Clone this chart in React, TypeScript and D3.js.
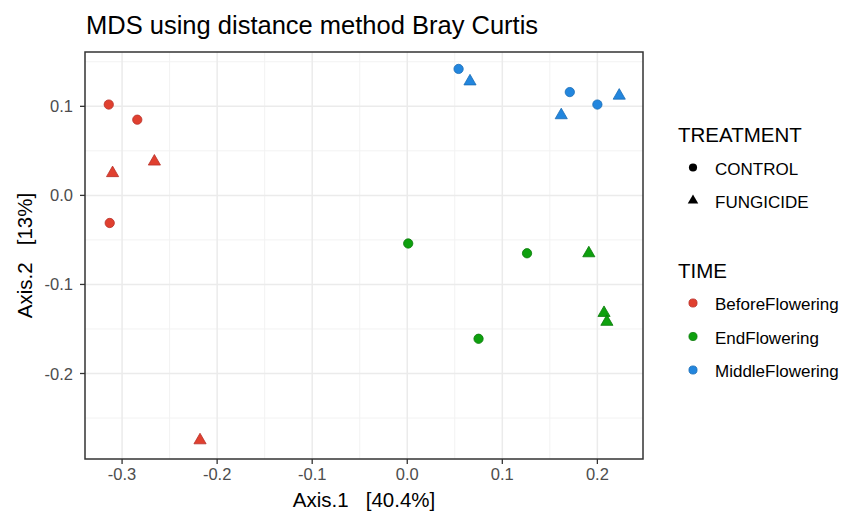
import React from 'react';
import * as d3 from 'd3';

// MDS ordination points (Bray Curtis)
const sampleTime = [
  'BeforeFlowering', 'BeforeFlowering', 'BeforeFlowering', 'BeforeFlowering', 'BeforeFlowering', 'BeforeFlowering',
  'MiddleFlowering', 'MiddleFlowering', 'MiddleFlowering', 'MiddleFlowering', 'MiddleFlowering', 'MiddleFlowering',
  'EndFlowering', 'EndFlowering', 'EndFlowering', 'EndFlowering', 'EndFlowering', 'EndFlowering',
];
const sampleTreatment = [
  'CONTROL', 'CONTROL', 'CONTROL', 'FUNGICIDE', 'FUNGICIDE', 'FUNGICIDE',
  'CONTROL', 'CONTROL', 'CONTROL', 'FUNGICIDE', 'FUNGICIDE', 'FUNGICIDE',
  'CONTROL', 'CONTROL', 'CONTROL', 'FUNGICIDE', 'FUNGICIDE', 'FUNGICIDE',
];
const axis1 = [
  -0.314, -0.284, -0.313, -0.266, -0.310, -0.218,
  0.054, 0.171, 0.200, 0.066, 0.223, 0.162,
  0.001, 0.126, 0.075, 0.191, 0.207, 0.210,
];
const axis2 = [
  0.102, 0.085, -0.031, 0.038, 0.025, -0.275,
  0.142, 0.116, 0.102, 0.128, 0.112, 0.090,
  -0.054, -0.065, -0.161, -0.065, -0.132, -0.142,
];

const timeLevels = ['BeforeFlowering', 'EndFlowering', 'MiddleFlowering'];
const timeColors = ['#e0402f', '#0ea00e', '#2286de'];
const timeStrokes = ['#b8302a', '#0a7a0a', '#1a6cb5'];
const treatmentLevels = ['CONTROL', 'FUNGICIDE'];
const xTicks = [-0.3, -0.2, -0.1, 0.0, 0.1, 0.2];
const yTicks = [0.1, 0.0, -0.1, -0.2];
const xMinor = [-0.25, -0.15, -0.05, 0.05, 0.15];
const yMinor = [0.15, 0.05, -0.05, -0.15, -0.25];

const W = 845;
const H = 516;
const panel = { left: 85, right: 643, top: 52, bottom: 459 };
const FONT = '"Liberation Sans", Arial, sans-serif';

export default function App() {
  const x = d3.scaleLinear().domain([-0.339, 0.248]).range([panel.left, panel.right]);
  const y = d3.scaleLinear().domain([-0.296, 0.161]).range([panel.bottom, panel.top]);
  const color = d3.scaleOrdinal<string, string>().domain(timeLevels).range(timeColors);
  const stroke = d3.scaleOrdinal<string, string>().domain(timeLevels).range(timeStrokes);
  const shape = d3
    .scaleOrdinal<string, d3.SymbolType>()
    .domain(treatmentLevels)
    .range([d3.symbolCircle, d3.symbolTriangle]);
  const symbolSize = (t: string) => (t === 'CONTROL' ? 68 : 64);
  // ggplot prints an ASCII hyphen for negatives
  const fmt = (v: number) => d3.format('.1f')(v).replace('\u2212', '-');

  const points = axis1.map((v, i) => ({
    x: v,
    y: axis2[i],
    time: sampleTime[i],
    treatment: sampleTreatment[i],
  }));

  const legendX = 693;
  const legendTextX = 715;

  return (
    <svg
      width={W}
      height={H}
      style={{ position: 'absolute', left: 0, top: 0, background: '#fff' }}
      fontFamily={FONT}
    >
      <rect width={W} height={H} fill="#fff" />
      <text x={86} y={34} fontSize={25.5} fill="#000">
        MDS using distance method Bray Curtis
      </text>

      {/* grid */}
      <g>
        {xMinor.map((v) => (
          <line key={`xm${v}`} x1={x(v)} x2={x(v)} y1={panel.top} y2={panel.bottom} stroke="#f2f2f2" strokeWidth={1} />
        ))}
        {yMinor.map((v) => (
          <line key={`ym${v}`} y1={y(v)} y2={y(v)} x1={panel.left} x2={panel.right} stroke="#f2f2f2" strokeWidth={1} />
        ))}
        {xTicks.map((v) => (
          <line key={`xg${v}`} x1={x(v)} x2={x(v)} y1={panel.top} y2={panel.bottom} stroke="#ebebeb" strokeWidth={1.5} />
        ))}
        {yTicks.map((v) => (
          <line key={`yg${v}`} y1={y(v)} y2={y(v)} x1={panel.left} x2={panel.right} stroke="#ebebeb" strokeWidth={1.5} />
        ))}
      </g>

      {/* points */}
      <g>
        {points.map((p, i) => (
          <path
            key={i}
            d={d3.symbol(shape(p.treatment), symbolSize(p.treatment))() ?? ''}
            transform={`translate(${x(p.x)},${y(p.y)})`}
            fill={color(p.time)}
            stroke={stroke(p.time)}
            strokeWidth={0.8}
          />
        ))}
      </g>

      <rect
        x={panel.left}
        y={panel.top}
        width={panel.right - panel.left}
        height={panel.bottom - panel.top}
        fill="none"
        stroke="#333"
        strokeWidth={1.5}
      />

      {/* x axis */}
      <g>
        {xTicks.map((v) => (
          <g key={`xt${v}`}>
            <line x1={x(v)} x2={x(v)} y1={panel.bottom} y2={panel.bottom + 5} stroke="#333" strokeWidth={1.3} />
            <text x={x(v)} y={480} textAnchor="middle" fontSize={16.5} fill="#4d4d4d">
              {fmt(v)}
            </text>
          </g>
        ))}
        <text x={(panel.left + panel.right) / 2} y={507} textAnchor="middle" fontSize={20.5} fill="#000" xmlSpace="preserve">
          {'Axis.1   [40.4%]'}
        </text>
      </g>

      {/* y axis */}
      <g>
        {yTicks.map((v) => (
          <g key={`yt${v}`}>
            <line x1={panel.left - 5} x2={panel.left} y1={y(v)} y2={y(v)} stroke="#333" strokeWidth={1.3} />
            <text x={73} y={y(v) + 6} textAnchor="end" fontSize={16.5} fill="#4d4d4d">
              {fmt(v)}
            </text>
          </g>
        ))}
        <text
          transform={`translate(32,${(panel.top + panel.bottom) / 2}) rotate(-90)`}
          textAnchor="middle"
          fontSize={20.5}
          fill="#000"
          xmlSpace="preserve"
        >
          {'Axis.2   [13%]'}
        </text>
      </g>

      {/* legends */}
      <g>
        <text x={678} y={142} fontSize={20.5} fill="#000">
          TREATMENT
        </text>
        {treatmentLevels.map((t, i) => (
          <g key={t}>
            <path
              d={d3.symbol(shape(t), i === 0 ? 52 : 48)() ?? ''}
              transform={`translate(${legendX},${167.5 + i * 33})`}
              fill="#000"
            />
            <text x={legendTextX} y={175 + i * 33} fontSize={17} fill="#000">
              {t}
            </text>
          </g>
        ))}
        <text x={678} y={278} fontSize={20.5} fill="#000">
          TIME
        </text>
        {timeLevels.map((t, i) => (
          <g key={t}>
            <path
              d={d3.symbol(d3.symbolCircle, 52)() ?? ''}
              transform={`translate(${legendX},${303 + i * 33.5})`}
              fill={color(t)}
              stroke={stroke(t)}
              strokeWidth={0.8}
            />
            <text x={legendTextX} y={310 + i * 33.5} fontSize={17} fill="#000">
              {t}
            </text>
          </g>
        ))}
      </g>
    </svg>
  );
}
